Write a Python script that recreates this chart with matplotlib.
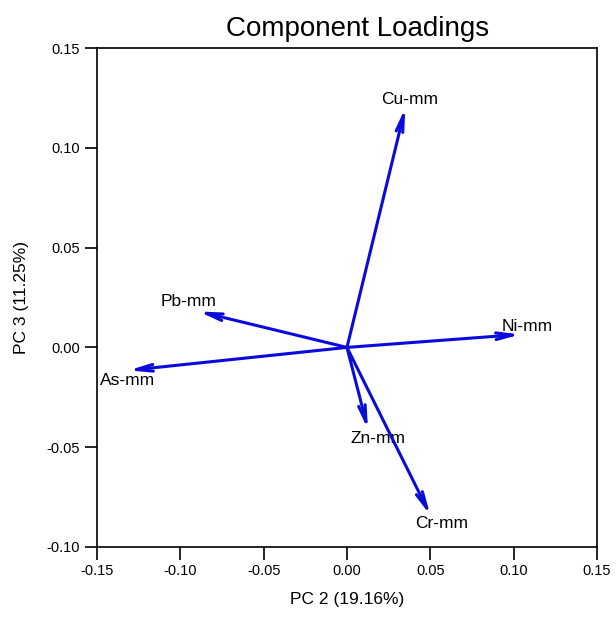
import matplotlib.pyplot as plt

plt.rcParams['font.family'] = ['Liberation Sans', 'DejaVu Sans']

# Loadings on PC 2 / PC 3
variables = ['Cu-mm', 'Pb-mm', 'As-mm', 'Ni-mm', 'Zn-mm', 'Cr-mm']
pc2 = [0.035, -0.089, -0.131, 0.104, 0.0126, 0.050]
pc3 = [0.120, 0.018, -0.0115, 0.0065, -0.041, -0.084]

# label offsets from arrow tips (points)
label_offsets = [(3, 6), (-7, 7), (-1, -7), (5, 6), (7, -7), (8, -6)]

fig = plt.figure(figsize=(6.16, 6.26), dpi=100)
ax = fig.add_axes([0.1575, 0.1262, 0.8115, 0.7971])

for name, x, y, off in zip(variables, pc2, pc3, label_offsets):
    ax.annotate('', xy=(x, y), xytext=(0, 0),
                arrowprops=dict(arrowstyle='->,head_length=1.2,head_width=0.24',
                                color='#0a0adc', lw=2.2, shrinkA=0, shrinkB=0))
    ax.annotate(name, xy=(x, y), xytext=off, textcoords='offset points',
                ha='center', va='center', fontsize=12.5)

ax.set_xlim(-0.15, 0.15)
ax.set_ylim(-0.10, 0.15)
ax.set_xticks([-0.15, -0.10, -0.05, 0.00, 0.05, 0.10, 0.15])
ax.set_yticks([-0.10, -0.05, 0.00, 0.05, 0.10, 0.15])
ax.xaxis.set_major_formatter(plt.FormatStrFormatter('%.2f'))
ax.yaxis.set_major_formatter(plt.FormatStrFormatter('%.2f'))
ax.tick_params(direction='out', length=9, width=1.2, labelsize=10.5)
for s in ax.spines.values():
    s.set_linewidth(1.2)

ax.set_title('Component Loadings', fontsize=20, pad=9, x=0.522)
ax.set_xlabel('PC 2 (19.16%)', fontsize=12.5, labelpad=10)
ax.set_ylabel('PC 3 (11.25%)', fontsize=12.5, labelpad=12)

fig.savefig('out.png', dpi=100)
